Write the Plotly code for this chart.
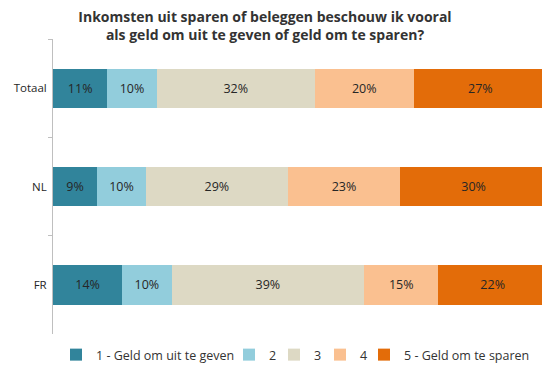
import plotly.graph_objects as go

categories = ["Totaal", "NL", "FR"]
series_names = ["1 - Geld om uit te geven", "2", "3", "4", "5 - Geld om te sparen"]
s1 = [11, 9, 14]
s2 = [10, 10, 10]
s3 = [32, 29, 39]
s4 = [20, 23, 15]
s5 = [27, 30, 22]
colors = ["#31849B", "#92CDDC", "#DDD9C4", "#FAC090", "#E36C09"]

title_text = ("Inkomsten uit sparen of beleggen beschouw ik vooral<br>"
              "als geld om uit te geven of geld om te sparen?")

# the page body has an 8px margin, so the figure is drawn from (8, 8)
OFF = 8
W, H = 550 - OFF, 371 - OFF
L, T = 53 - OFF, 39 - OFF
R = W - (547 - OFF)
B = H - (334 - OFF)
PW = W - L - R
PH = H - T - B
legend_text_x = [92, 265, 310, 356, 400]  # legend entry text starts (page px)
legend_names = ["legend", "legend2", "legend3", "legend4", "legend5"]

fig = go.Figure()
for name, vals, col, lg in zip(series_names, [s1, s2, s3, s4, s5], colors, legend_names):
    fig.add_trace(go.Bar(
        y=categories, x=vals, name=name, orientation="h", legend=lg,
        marker=dict(color=col, line=dict(width=0)),
        text=[f"{v}%" for v in vals], textposition="inside",
        insidetextanchor="middle", constraintext="none",
        textfont=dict(color="#262626", size=12.5, family="Open Sans"),
        hoverinfo="skip",
    ))

leg_y = -((355 - OFF) - (T + PH)) / PH
layout_legends = {}
for lg, tx in zip(legend_names, legend_text_x):
    layout_legends[lg] = dict(
        orientation="h", x=((tx - OFF) - 36 - L) / PW, xanchor="left",
        y=leg_y, yanchor="middle", font=dict(size=12.5, color="#333333"),
        bgcolor="rgba(0,0,0,0)", borderwidth=0,
    )

fig.update_layout(
    width=W, height=H,
    barmode="stack", barnorm="percent", bargap=0.6,
    paper_bgcolor="white", plot_bgcolor="white",
    margin=dict(l=L, r=R, t=T, b=B, autoexpand=False),
    font=dict(family="Open Sans", size=12.5, color="#333333"),
    title=dict(text=title_text, x=(265 - OFF) / W, xanchor="center",
               y=1 - (21.5 - OFF) / H, yanchor="middle",
               font=dict(family="Open Sans", size=14, color="#333333", weight="bold")),
    showlegend=True,
    **layout_legends,
)
fig.update_xaxes(range=[0, 100], showgrid=False, showticklabels=False,
                 zeroline=False, showline=False, fixedrange=True)
fig.update_yaxes(autorange="reversed", showline=True, linecolor="#bfbfbf", linewidth=1,
                 ticks="outside", ticklen=4, tickcolor="#bfbfbf", tickson="boundaries",
                 showgrid=False, ticklabelstandoff=3,
                 tickfont=dict(size=11.5, color="#262626"))

fig.write_html("out.html")
